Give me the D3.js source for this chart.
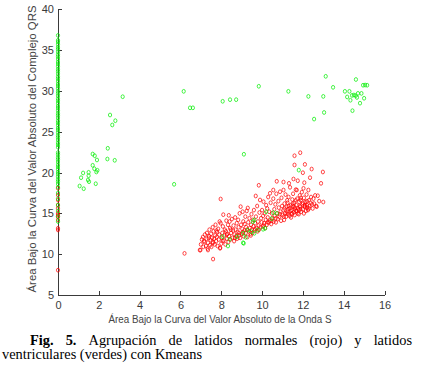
<!DOCTYPE html>
<html>
<head>
<meta charset="utf-8">
<script src="https://cdn.jsdelivr.net/npm/d3@7/dist/d3.min.js"></script>
<style>
  body { margin: 0; background: #fff; }
  svg { display: block; background: #fff; }
  .axis text { font-family: Arial, "Liberation Sans", sans-serif; font-size: 11px; fill: #3a3a3a; }
  .axis path, .axis line { stroke: #3a3a3a; shape-rendering: crispEdges; }
  .label { font-family: Arial, "Liberation Sans", sans-serif; fill: #444; }
  text.cap { font-family: "Liberation Serif", "Times New Roman", Times, serif; font-size: 14.4px; fill: #000; }
</style>
</head>
<body>
<svg id="chart" width="428" height="369"></svg>
<script>

// ---- data ----
const xTicks = [0, 2, 4, 6, 8, 10, 12, 14, 16];
const yTicks = [5, 10, 15, 20, 25, 30, 35, 40];

const xLabel = "Área Bajo la Curva del Valor Absoluto de la Onda S";
const yLabel = "Área Bajo la Curva del Valor Absoluto del Complejo QRS";

const captionBold = ["Fig.", "5."];
const captionLine1 = ["Agrupación", "de", "latidos", "normales", "(rojo)", "y", "latidos"];
const captionLine2 = "ventriculares (verdes) con Kmeans";

// red (normal) beats sitting on x = 0
const redOnZero = [18.07, 17.25, 16.64, 16.03, 15.62, 15.01, 14.8, 14.59, 14.19, 13.17, 12.97, 8.04];

// green (ventricular) beats sitting on x = 0
const greenOnZero = [14.0, 14.6, 15.3, 16.0, 16.8, 17.5, 18.2, 18.6, 18.9, 19.15, 19.5, 19.8, 20.05,
  20.4, 20.7, 20.95, 21.3, 21.6, 21.85, 22.2, 22.45, 23.1, 23.4, 23.65, 24.0, 24.3, 24.55, 24.9,
  25.2, 25.45, 25.8, 26.1, 26.35, 26.7, 27.0, 27.25, 27.6, 27.9, 28.15, 28.5, 28.8, 29.05, 29.4,
  29.7, 29.95, 30.3, 30.6, 30.85, 31.2, 31.5, 31.75, 32.1, 32.4, 32.65, 33.0, 33.3, 33.55, 33.9,
  34.2, 34.45, 34.8, 35.1, 35.35, 35.7, 36.0, 36.2, 36.8];

// red cluster [x, y]
const redPoints = [
  [6.2, 10.1], [7.6, 9.4], [7.97, 16.76], [6.98, 10.51], [7.35, 10.51], [7.94, 10.72],
  [6.95, 10.5], [7.0, 11.2], [7.05, 11.8], [7.1, 12.1], [7.12, 10.9], [7.18, 11.5], [7.2, 12.4],
  [7.25, 11.0], [7.28, 11.9], [7.3, 12.6], [7.33, 10.7], [7.35, 11.4], [7.4, 12.2], [7.42, 13.0],
  [7.45, 11.1], [7.48, 11.7], [7.5, 12.5], [7.52, 10.9], [7.55, 12.0], [7.58, 13.3], [7.6, 11.4],
  [7.62, 12.8], [7.65, 11.9], [7.68, 11.2], [7.7, 12.3], [7.72, 13.6], [7.75, 11.6], [7.78, 12.1],
  [7.8, 12.7], [7.82, 11.0], [7.85, 13.1], [7.88, 11.8], [7.9, 12.4], [7.92, 14.0], [7.95, 10.8],
  [7.97, 13.8], [8.0, 11.3], [8.02, 12.0], [8.05, 12.6], [8.08, 13.4], [8.1, 14.84], [8.12, 11.7],
  [8.15, 12.3], [8.18, 13.0], [8.2, 11.2], [8.23, 12.8], [8.25, 14.1], [8.28, 11.9], [8.3, 12.5],
  [8.33, 13.6], [8.35, 11.5], [8.37, 14.76], [8.38, 12.2], [8.41, 14.0], [8.43, 13.2], [8.45, 11.8],
  [8.48, 12.6], [8.52, 14.3], [8.55, 12.0], [8.58, 12.9], [8.6, 13.5], [8.63, 11.6], [8.65, 12.4],
  [8.68, 14.5], [8.7, 13.0], [8.73, 12.2], [8.76, 13.8], [8.78, 11.9], [8.8, 12.7], [8.83, 14.2],
  [8.85, 13.3], [8.88, 12.3], [8.9, 15.0], [8.93, 12.0], [8.95, 15.82], [8.97, 13.6], [9.0, 12.5],
  [9.03, 13.1], [9.05, 15.2], [9.08, 14.0], [9.1, 12.2], [9.13, 12.9], [9.15, 13.7], [9.18, 14.6],
  [9.2, 12.6], [9.22, 13.3], [9.25, 15.3], [9.28, 12.1], [9.3, 15.66], [9.32, 13.9], [9.35, 12.8],
  [9.38, 14.4], [9.4, 13.2], [9.43, 12.5], [9.46, 13.6], [9.48, 14.9], [9.5, 13.0], [9.53, 12.6],
  [9.55, 14.2], [9.58, 13.4], [9.6, 15.4], [9.63, 12.9], [9.66, 13.8], [9.69, 17.13], [9.7, 14.6],
  [9.73, 13.2], [9.76, 15.9], [9.78, 12.8], [9.8, 14.0], [9.83, 13.5], [9.84, 18.44], [9.87, 15.1],
  [9.9, 16.64], [9.92, 13.3], [9.95, 14.4], [9.98, 13.9], [10.0, 15.4], [10.03, 13.4], [10.05, 14.7],
  [10.07, 16.43], [10.1, 13.8], [10.13, 15.0], [10.15, 13.2], [10.18, 14.2], [10.2, 16.0], [10.23, 13.6],
  [10.25, 15.6], [10.28, 14.5], [10.3, 17.0], [10.33, 13.9], [10.35, 15.2], [10.38, 14.1], [10.39, 17.46],
  [10.42, 16.3], [10.45, 13.7], [10.48, 15.0], [10.5, 14.4], [10.55, 17.86], [10.55, 16.8], [10.57, 14.0],
  [10.6, 15.5], [10.62, 14.7], [10.65, 16.1], [10.68, 13.9], [10.7, 17.4], [10.72, 18.93], [10.74, 15.0],
  [10.77, 14.3], [10.8, 16.5], [10.82, 15.7], [10.85, 14.6], [10.88, 17.65], [10.9, 15.2], [10.93, 14.1],
  [10.95, 16.9], [10.98, 15.9], [11.0, 14.8], [11.05, 17.86], [11.05, 18.84], [11.05, 15.4], [11.08, 14.2],
  [11.1, 16.2], [11.1, 15.6], [11.12, 15.0], [11.15, 17.3], [11.18, 14.6], [11.2, 15.8], [11.2, 15.0],
  [11.23, 16.6], [11.25, 15.2], [11.25, 16.3], [11.28, 14.9], [11.3, 17.0], [11.3, 15.9], [11.32, 18.68],
  [11.35, 15.6], [11.35, 14.7], [11.37, 18.19], [11.4, 16.0], [11.4, 15.3], [11.42, 14.5], [11.45, 15.4],
  [11.45, 14.9], [11.48, 16.7], [11.5, 15.9], [11.5, 16.2], [11.52, 17.4], [11.54, 19.21], [11.55, 15.1],
  [11.55, 15.8], [11.58, 16.3], [11.59, 22.06], [11.59, 20.93], [11.6, 14.8], [11.6, 15.5], [11.62, 15.7],
  [11.65, 17.9], [11.65, 16.6], [11.68, 16.0], [11.7, 15.3], [11.7, 17.86], [11.72, 16.8], [11.75, 19.0],
  [11.75, 15.0], [11.77, 15.6], [11.8, 14.9], [11.8, 15.4], [11.82, 16.4], [11.85, 17.2], [11.85, 15.9],
  [11.87, 15.8], [11.87, 22.43], [11.9, 16.6], [11.9, 16.9], [11.92, 15.2], [11.95, 17.6], [11.98, 16.1],
  [12.0, 15.5], [12.0, 19.98], [12.0, 16.3], [12.03, 18.07], [12.05, 16.9], [12.05, 15.0], [12.07, 18.76],
  [12.08, 15.9], [12.1, 21.0], [12.1, 15.8], [12.12, 16.4], [12.15, 15.3], [12.18, 17.3], [12.2, 16.0],
  [12.2, 16.5], [12.22, 15.7], [12.25, 15.41], [12.27, 17.86], [12.3, 16.6], [12.32, 15.9], [12.35, 19.37],
  [12.38, 16.3], [12.4, 17.0], [12.43, 20.43], [12.45, 16.1], [12.48, 15.6], [12.52, 16.8], [12.55, 16.2],
  [12.6, 17.2], [12.65, 15.9], [12.68, 15.82], [12.73, 17.16], [12.8, 16.5], [12.89, 18.68], [12.98, 20.07],
  [13.0, 16.39],
  // extra density in the lower part of the band
  [7.15, 11.6], [7.38, 12.0], [7.57, 11.5], [7.77, 12.9], [8.07, 11.6], [8.27, 12.4], [8.47, 13.0],
  [8.67, 12.0], [8.87, 12.6], [9.07, 12.7], [9.27, 13.0], [9.45, 12.3], [9.65, 13.1], [9.85, 13.0],
  [10.08, 13.5], [10.27, 13.9], [10.47, 14.1], [10.67, 14.4], [10.87, 14.9], [11.07, 14.6], [11.27, 15.5],
  [11.47, 15.0], [11.67, 15.3], [11.88, 15.5], [12.1, 16.0], [12.3, 15.6]
];

// green points away from x = 0 [x, y]
const greenPoints = [
  [1.06, 18.35], [1.13, 19.37], [1.23, 19.95], [1.26, 18.02], [1.47, 19.09], [1.5, 19.61], [1.52, 18.88],
  [1.5, 20.03], [1.7, 20.89], [1.7, 22.27], [1.78, 20.47], [1.8, 22.06], [1.85, 18.63], [1.88, 20.07],
  [1.91, 21.54], [1.93, 20.28], [2.42, 21.66], [2.44, 22.97], [2.78, 21.5], [2.55, 27.05], [2.66, 25.83],
  [2.81, 26.35], [3.17, 29.29], [5.69, 18.56], [6.16, 29.95], [6.47, 27.93], [6.61, 27.93], [8.07, 28.73],
  [8.43, 28.93], [8.73, 28.93], [9.84, 30.57], [11.29, 29.95], [12.27, 29.33], [12.55, 26.55],
  [13.04, 27.36], [13.0, 29.33], [13.12, 31.79], [13.48, 30.44], [14.06, 29.95], [14.28, 29.95],
  [14.17, 29.26], [14.41, 29.45], [14.5, 29.5], [14.59, 29.42], [14.7, 29.7], [14.87, 29.7], [14.33, 28.86],
  [14.65, 29.2], [14.8, 28.5], [15.0, 29.1], [14.43, 27.58], [14.6, 31.4], [14.95, 30.7], [15.05, 30.72],
  [15.15, 30.7], [9.11, 22.24], [11.8, 20.3],
  [8.06, 12.14], [8.33, 11.0], [8.41, 11.82], [8.77, 12.14], [9.07, 12.55], [9.2, 12.06], [9.1, 11.33],
  [9.3, 12.96], [9.62, 12.55], [9.62, 14.19], [9.79, 12.96], [10.15, 13.17], [10.2, 15.2], [10.55, 15.08],
  [10.72, 15.0], [10.47, 14.35], [9.55, 13.98], [10.05, 13.05], [9.47, 12.76], [9.07, 11.4]
];

class ScatterChart {

  constructor(svgId) {
    this.svg = d3.select(svgId);
    this.width = +this.svg.attr("width");
    this.height = +this.svg.attr("height");

    this.x = d3.scaleLinear().domain([0, 16]).range([58, 384.5]);
    this.y = d3.scaleLinear().domain([5, 40]).range([295, 9.3]);

    this.drawAxes();
    this.drawPoints();
    this.drawCaption();
  }

  drawAxes() {
    // MATLAB style: only left + bottom, ticks pointing inward
    this.svg.append("g")
      .attr("class", "axis")
      .attr("transform", `translate(0,${this.y(5)})`)
      .call(d3.axisBottom(this.x).tickValues(xTicks).tickSizeInner(-4).tickSizeOuter(0).tickPadding(6));

    this.svg.append("g")
      .attr("class", "axis")
      .attr("transform", `translate(${this.x(0)},0)`)
      .call(d3.axisLeft(this.y).tickValues(yTicks).tickSizeInner(-4).tickSizeOuter(0).tickPadding(4));

    this.svg.append("text")
      .attr("class", "label")
      .attr("x", 220)
      .attr("y", 322.5)
      .attr("text-anchor", "middle")
      .attr("font-size", 10)
      .attr("textLength", 223)
      .attr("lengthAdjust", "spacingAndGlyphs")
      .text(xLabel);

    this.svg.append("text")
      .attr("class", "label")
      .attr("transform", "translate(36,149) rotate(-90)")
      .attr("text-anchor", "middle")
      .attr("font-size", 10.5)
      .attr("textLength", 287)
      .attr("lengthAdjust", "spacingAndGlyphs")
      .text(yLabel);
  }

  drawPoints() {
    let red = redOnZero.map(v => [0, v]).concat(redPoints);
    let green = greenOnZero.map(v => [0, v]).concat(greenPoints);

    let layer = this.svg.append("g");
    this.drawSeries(layer, red, "#ff0000");
    this.drawSeries(layer, green, "#00ee00");
  }

  drawSeries(layer, pts, color) {
    layer.append("g")
      .selectAll("ellipse")
      .data(pts)
      .enter().append("ellipse")
        .attr("cx", d => this.x(d[0]))
        .attr("cy", d => this.y(d[1]))
        .attr("rx", 1.6)
        .attr("ry", 1.9)
        .attr("fill", "none")
        .attr("stroke", color)
        .attr("stroke-opacity", 0.8)
        .attr("stroke-width", 0.9);
  }

  drawCaption() {
    // first line is one <text>; each word is a tspan, justified between x=30 and x=412
    let words = captionBold.map(w => ({text: w, bold: true}))
      .concat(captionLine1.map(w => ({text: w, bold: false})));

    let line1 = this.svg.append("text")
      .attr("class", "cap")
      .attr("y", 345);

    let spans = words.map(w => line1.append("tspan")
      .style("font-weight", w.bold ? "bold" : "normal")
      .text(w.text));
    let widths = spans.map(s => s.node().getComputedTextLength());
    let gap = (412 - 30 - d3.sum(widths)) / (spans.length - 1);
    let cursor = 30;
    spans.forEach((s, i) => {
      s.attr("x", cursor);
      cursor += widths[i] + gap;
    });

    this.svg.append("text")
      .attr("class", "cap")
      .attr("x", 2)
      .attr("y", 358.5)
      .attr("textLength", 200)
      .attr("lengthAdjust", "spacingAndGlyphs")
      .text(captionLine2);
  }
}

new ScatterChart("#chart");
</script>
</body>
</html>
